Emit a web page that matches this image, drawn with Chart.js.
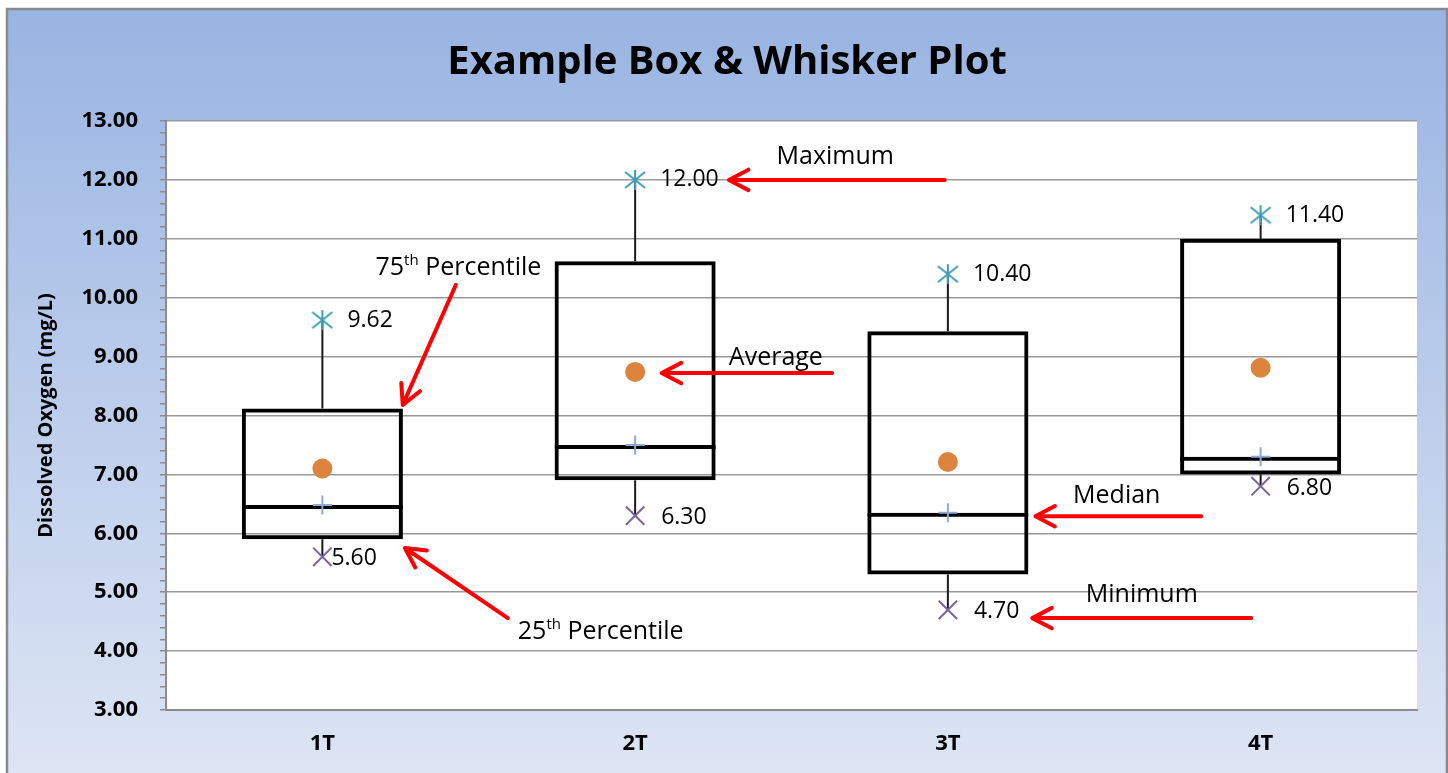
<!DOCTYPE html>
<html>
<head>
<meta charset="utf-8">
<title>Example Box &amp; Whisker Plot</title>
<script src="https://cdn.jsdelivr.net/npm/chart.js@4.4.0/dist/chart.umd.min.js"></script>
<style>
	html, body { margin: 0; padding: 0; background: #fff; }
	canvas { display: block; }
</style>
</head>
<body>
<canvas id="boxChart" width="1448" height="773"></canvas>
<script>
'use strict'

// values
const categories = ['1T', '2T', '3T', '4T'];
const minimums = [5.60, 6.30, 4.70, 6.80];
const quartile1 = [5.90, 6.90, 5.30, 7.00];
const medians = [6.48, 7.50, 6.35, 7.30];
const quartile3 = [8.12, 10.62, 9.43, 11.00];
const maximums = [9.62, 12.00, 10.40, 11.40];
const averages = [7.10, 8.74, 7.21, 8.81];
const yRange = [3, 13];

const colors = {
	box: '#000000',
	whisker: '#1a1a1a',
	max: '#3E9DB5',
	min: '#7B62A0',
	median: '#8EA9D3',
	average: '#DC843E',
	grid: '#999999',
	axis: '#8c8c8c',
	arrow: '#FF0000',
	text: '#000000',
};

const isMajor = v => Math.abs(v - Math.round(v)) < 1e-6;

// Excel style asterisk marker (X with a vertical bar)
function asteriskMarker(size, color) {
	const c = document.createElement('canvas');
	c.width = size;
	c.height = size;
	const g = c.getContext('2d');
	const m = size / 2;
	const r = m - 1;
	g.strokeStyle = color;
	g.lineWidth = 2;
	g.beginPath();
	g.moveTo(m, m - r); g.lineTo(m, m + r);
	g.moveTo(m - r, m - r * 0.8); g.lineTo(m + r, m + r * 0.8);
	g.moveTo(m + r, m - r * 0.8); g.lineTo(m - r, m + r * 0.8);
	g.stroke();
	return c;
}

// blue gradient frame, white plot area and the chart title (centred on the frame)
const panel = {
	id: 'panel',
	beforeDraw(chart) {
		const { ctx, width, height, chartArea } = chart;
		ctx.save();
		ctx.fillStyle = '#fff';
		ctx.fillRect(0, 0, width, height);
		const g = ctx.createLinearGradient(0, 9, 0, height);
		g.addColorStop(0, '#99B4E2');
		g.addColorStop(1, '#DDE5F4');
		ctx.fillStyle = g;
		ctx.fillRect(7, 9, 1440, height);
		ctx.strokeStyle = '#8a8a8a';
		ctx.lineWidth = 2.5;
		ctx.strokeRect(7, 9, 1440, height + 10);
		ctx.fillStyle = '#fff';
		ctx.fillRect(chartArea.left, chartArea.top, chartArea.width, chartArea.height);
		ctx.restore();
	},
	afterDraw(chart, args, opts) {
		const ctx = chart.ctx;
		ctx.save();
		ctx.font = opts.titleFont;
		ctx.fillStyle = colors.text;
		ctx.textAlign = 'center';
		ctx.textBaseline = 'middle';
		ctx.fillText(opts.title, 727, 63);
		ctx.restore();
	},
};

const valueLabels = {
	id: 'valueLabels',
	afterDatasetsDraw(chart, args, opts) {
		const ctx = chart.ctx;
		ctx.save();
		ctx.font = opts.font;
		ctx.fillStyle = opts.color;
		ctx.textBaseline = 'middle';
		ctx.textAlign = 'left';
		opts.targets.forEach(t => {
			const meta = chart.getDatasetMeta(t.dataset);
			meta.data.forEach((pt, i) => {
				const v = chart.data.datasets[t.dataset].data[i];
				const dx = Array.isArray(t.dx) ? t.dx[i] : t.dx;
				ctx.fillText(v.toFixed(2), pt.x + dx, pt.y + (t.dy || 0));
			});
		});
		ctx.restore();
	},
};

// red call-outs, positioned in data units (category index, mg/L)
const callouts = {
	id: 'callouts',
	afterDraw(chart, args, opts) {
		const { ctx, scales: { x, y } } = chart;
		const px = p => [x.getPixelForValue(p[0]), y.getPixelForValue(p[1])];
		ctx.save();
		opts.notes.forEach(n => {
			const [x0, y0] = px(n.from);
			const [x1, y1] = px(n.to);
			ctx.strokeStyle = colors.arrow;
			ctx.lineWidth = 4;
			ctx.lineCap = 'round';
			ctx.lineJoin = 'round';
			ctx.beginPath();
			ctx.moveTo(x0, y0);
			ctx.lineTo(x1, y1);
			const a = Math.atan2(y0 - y1, x0 - x1);
			const len = 22, spread = Math.PI / 6.5;
			ctx.moveTo(x1 + len * Math.cos(a - spread), y1 + len * Math.sin(a - spread));
			ctx.lineTo(x1, y1);
			ctx.lineTo(x1 + len * Math.cos(a + spread), y1 + len * Math.sin(a + spread));
			ctx.stroke();

			const [tx, ty] = px(n.at);
			ctx.fillStyle = colors.text;
			ctx.textBaseline = 'middle';
			ctx.textAlign = 'left';
			const main = opts.font, small = opts.supFont;
			ctx.font = main;
			const w1 = ctx.measureText(n.text).width;
			const w3 = n.rest ? ctx.measureText(n.rest).width : 0;
			ctx.font = small;
			const w2 = n.sup ? ctx.measureText(n.sup).width : 0;
			let cx = tx - (w1 + w2 + w3) / 2;
			ctx.font = main;
			ctx.fillText(n.text, cx, ty);
			cx += w1;
			if (n.sup) {
				ctx.font = small;
				ctx.fillText(n.sup, cx, ty - 8);
				cx += w2;
				ctx.font = main;
				ctx.fillText(n.rest, cx, ty);
			}
		});
		ctx.restore();
	},
};

const barDefaults = {
	type: 'bar',
	backgroundColor: 'rgba(0,0,0,0)',
	borderColor: colors.box,
	borderSkipped: false,
	grouped: false,
	categoryPercentage: 1,
	barPercentage: 0.515,
	inflateAmount: 0,
	order: 4,
};

const whiskerDefaults = {
	type: 'bar',
	backgroundColor: colors.whisker,
	borderWidth: 0,
	grouped: false,
	barThickness: 2,
	inflateAmount: 0,
	order: 5,
};

const pointDefaults = {
	type: 'line',
	showLine: false,
	pointBorderWidth: 2,
};

new Chart(document.getElementById('boxChart'), {
	type: 'bar',
	data: {
		labels: categories,
		datasets: [
			{ ...whiskerDefaults, label: 'Upper whisker', data: categories.map((c, i) => [quartile3[i], maximums[i]]) },
			{ ...whiskerDefaults, label: 'Lower whisker', data: categories.map((c, i) => [minimums[i], quartile1[i]]) },
			// box from Q1 to Q3
			{ ...barDefaults, label: 'Box', data: categories.map((c, i) => [quartile1[i], quartile3[i]]),
				borderWidth: 4 },
			// median bar: only its top edge is drawn, that is the median line
			{ ...barDefaults, label: 'Median line', data: categories.map((c, i) => [quartile1[i], medians[i]]),
				borderWidth: { top: 4, bottom: 0, left: 0, right: 0 } },
			{ ...pointDefaults, label: 'Median', data: medians, pointStyle: 'cross', pointRadius: 9.5,
				pointBorderColor: colors.median, order: 3 },
			{ ...pointDefaults, label: 'Maximum', data: maximums, pointStyle: asteriskMarker(22, colors.max),
				pointRadius: 11, order: 2 },
			{ ...pointDefaults, label: 'Minimum', data: minimums, pointStyle: 'crossRot', pointRadius: 13,
				pointBorderColor: colors.min, order: 2 },
			{ ...pointDefaults, label: 'Average', data: averages, pointStyle: 'circle', pointRadius: 10,
				pointBorderWidth: 0, pointBackgroundColor: colors.average, pointBorderColor: colors.average, order: 1 },
		],
	},
	options: {
		responsive: false,
		animation: false,
		events: [],
		layout: { padding: { left: 0, right: 31, top: 121, bottom: 0 } },
		plugins: {
			legend: { display: false },
			tooltip: { enabled: false },
			title: { display: false },
			panel: {
				title: 'Example Box & Whisker Plot',
				titleFont: 'bold 40px "Open Sans"',
			},
			valueLabels: {
				font: '23px "Open Sans"',
				color: colors.text,
				targets: [
					{ dataset: 5, dx: 25 },
					{ dataset: 6, dx: [9, 26, 26, 26], dy: 2 },
				],
			},
			callouts: {
				font: '25px "Open Sans"',
				supFont: '15px "Open Sans"',
				notes: [
					{ text: 'Maximum', at: [1.64, 12.39], from: [1.99, 12.0], to: [1.30, 12.0] },
					{ text: 'Average', at: [1.45, 8.98], from: [1.63, 8.72], to: [1.085, 8.72] },
					{ text: 'Median', at: [2.54, 6.63], from: [2.81, 6.29], to: [2.28, 6.29] },
					{ text: 'Minimum', at: [2.62, 4.95], from: [2.97, 4.56], to: [2.27, 4.56] },
					{ text: '75', sup: 'th', rest: ' Percentile', at: [0.435, 10.50], from: [0.427, 10.22], to: [0.257, 8.18] },
					{ text: '25', sup: 'th', rest: ' Percentile', at: [0.89, 4.32], from: [0.593, 4.56], to: [0.264, 5.75] },
				],
			},
		},
		scales: {
			x: {
				grid: { display: false, drawTicks: false },
				border: { color: colors.axis, width: 2 },
				ticks: {
					color: colors.text,
					padding: 21,
					font: { family: 'Open Sans', weight: 'bold', size: 22 },
				},
				afterFit: s => { s.height = 63; },
			},
			y: {
				min: yRange[0],
				max: yRange[1],
				ticks: {
					stepSize: 0.2,
					autoSkip: false,
					padding: 22,
					color: colors.text,
					font: { family: 'Open Sans', weight: 'bold', size: 22 },
					callback: v => isMajor(v) ? v.toFixed(2) : '',
				},
				grid: {
					color: c => isMajor(c.tick.value) ? colors.grid : 'rgba(0,0,0,0)',
					tickColor: colors.axis,
					tickLength: 6,
					lineWidth: 1.5,
				},
				border: { color: colors.axis, width: 2 },
				title: {
					display: true,
					text: 'Dissolved Oxygen (mg/L)',
					color: colors.text,
					font: { family: 'Open Sans', weight: 'bold', size: 20 },
					padding: { top: 34, bottom: 0 },
				},
				afterFit: s => { s.width = 166; },
			},
		},
	},
	plugins: [panel, valueLabels, callouts],
});
</script>
</body>
</html>
